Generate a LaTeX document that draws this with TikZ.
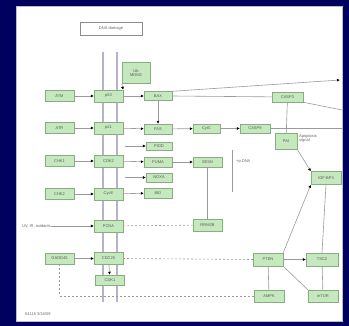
\documentclass[tikz,border=0pt]{standalone}
\usepackage{fontspec}
\setmainfont{Liberation Sans}
\usetikzlibrary{arrows.meta}
\definecolor{frame}{HTML}{00005E}
\definecolor{genefill}{HTML}{C6E8BE}
\definecolor{geneline}{HTML}{86AE7E}
\definecolor{link}{HTML}{9A9A9A}
\definecolor{membrane}{HTML}{B8B2C8}
\begin{document}
\begin{tikzpicture}[x=1pt,y=-1pt,
  gene/.style={draw=geneline, fill=genefill, line width=0.4pt, minimum width=29pt,
    minimum height=11pt, inner sep=0pt, font=\fontsize{4}{4.5}\selectfont, text=black!65},
  lab/.style={inner sep=0pt, font=\fontsize{4}{4.8}\selectfont, text=black!60},
  act/.style={draw=link, line width=0.6pt, -{Latex[length=3pt,width=3pt,color=black]}},
  plain/.style={draw=link, line width=0.6pt},
  indirect/.style={draw=link, line width=0.6pt, dash pattern=on 2pt off 2pt},
  indact/.style={indirect, -{Latex[length=3pt,width=3pt,color=black]}}]
\useasboundingbox (0,0) rectangle (349,326);
% frame and panel
\fill[frame] (0,0) rectangle (349,326);
\fill[white] (16,6) rectangle (342,321);
\draw[black!25, line width=0.5pt] (16,6) rectangle (342,321);

% double vertical guide lines
\draw[membrane, line width=2pt] (103,52) -- (103,302);
\draw[membrane, line width=2pt] (117,52) -- (117,302);

% title box
\node[draw=black!45, line width=0.8pt, fill=white, minimum width=62pt, minimum height=13pt,
  inner sep=0pt, font=\fontsize{4}{4.5}\selectfont, text=black!60] (title) at (111,28.5) {DNA damage};

% genes
\node[gene, minimum width=28pt, minimum height=21pt, align=center] (UB) at (136,73) {Ub\\MDM2};

\node[gene] (L1) at (59.5,96) {ATM};
\node[gene] (L2) at (59.5,128) {ATR};
\node[gene] (L3) at (59.5,161) {CHK1};
\node[gene] (L4) at (59.5,194) {CHK2};
\node[gene] (L6) at (59.5,258.5) {GADD45};

\node[gene, minimum height=12pt] (M1) at (108.5,96) {p53};
\node[gene, minimum height=12pt] (M2) at (108.5,128) {p21};
\node[gene, minimum height=12pt] (M3) at (108.5,161) {CDK2};
\node[gene, minimum height=12pt] (M4) at (108.5,194) {CycE};
\node[gene, minimum height=12pt] (M5) at (108.5,226) {PCNA};
\node[gene, minimum height=12pt] (M6) at (108.5,258.5) {CDC25};
\node[gene, minimum height=10pt] (M7) at (110,280) {CDK1};

\node[gene, minimum width=28pt, minimum height=9pt] (R1) at (158,96) {BAX};
\node[gene, minimum width=28pt, minimum height=10pt] (R2) at (158,129) {FAS};
\node[gene, minimum width=26pt, minimum height=8pt] (R3) at (159,146) {PIDD};
\node[gene, minimum width=28pt, minimum height=10pt] (R4) at (158,162) {PUMA};
\node[gene, minimum width=26pt, minimum height=9pt] (R5) at (159,177.5) {NOXA};
\node[gene, minimum width=28pt, minimum height=10pt] (R6) at (158,193) {BID};

\node[gene, minimum width=27pt, minimum height=9pt] (N1) at (206.5,128.5) {CytC};
\node[gene, minimum width=30pt, minimum height=9pt] (N2) at (255,128.5) {CASP9};
\node[gene, minimum width=29pt, minimum height=10pt] (N3) at (207.5,162) {SESN};
\node[gene, minimum width=29pt, minimum height=12pt] (N4) at (207.5,225) {RRM2B};

\node[gene, minimum width=31pt, minimum height=10pt] (T1) at (287.5,97) {CASP3};
\node[gene, minimum width=22pt, minimum height=16pt] (T2) at (286,141) {PAI};
\node[gene, minimum width=30pt, minimum height=13pt] (RF) at (326,178) {IGF-BP3};

\node[gene, minimum width=30pt, minimum height=13pt] (B1) at (268,259.5) {PTEN};
\node[gene, minimum width=32pt, minimum height=13pt] (B2) at (322,259.5) {TSC2};
\node[gene, minimum width=30pt, minimum height=12pt] (B3) at (269,296) {AMPK};
\node[gene, minimum width=30pt, minimum height=12pt] (B4) at (323,296) {mTOR};

% labels
\node[lab, anchor=west] (dmgtxt) at (22,226) {UV, IR, oxidants};
\node[lab, anchor=west, align=left] (apotxt) at (299,138.5) {Apoptosis\\signal};
\node[lab, anchor=west] (reptxt) at (236,162) {+p DNA};
\node[lab, anchor=west] (mapid) at (25,314) {04115 3/18/09};

% free ends
\coordinate (e1) at (340,80);
\coordinate (e2) at (342,110);
\coordinate (e3) at (342,128.5);
\coordinate (v1) at (232,150);
\coordinate (v2) at (232,192);
\coordinate (s3) at (125,146);
\coordinate (s5) at (125,177.5);

% connectors
\draw[act] (UB.south west) -- (M1.north east);
\foreach \r in {1,2,3,4,6} \draw[act] (L\r) -- (M\r);
\draw[act] (M1) -- (R1);
\draw[act] (M2) -- (R2);
\draw[act] (M3) -- (R4);
\draw[act] (M4) -- (R6);
\draw[act] (s3) -- (R3);
\draw[act] (s5) -- (R5);
\draw[act] (R1) -- (R2);
\draw[act] (R1.north east) -- (e1);
\draw[plain] (R1.east) -- (T1);
\draw[plain] (T1.south east) -- (e2);
\draw[plain] (T1) -- (T2);
\draw[act] (R2) -- (N1);
\draw[act] (N1) -- (N2);
\draw[plain] (N2) -- (e3);
\draw[act] (R4) -- (N3);
\draw[plain] (N3) -- (N4);
\draw[plain] (v1) -- (v2);
\draw[act] (dmgtxt) -- (M5);
\draw[indirect] (M5) -- (N4);
\draw[act] (M6) -- (M7);
\draw[indirect] (M6.east) -- (B1.west);
\draw[act] (B1) -- (B2);
\draw[plain] (B1) -- (B3);
\draw[plain] (B2) -- (B4);
\draw[plain] (B1.south east) -- (B4.north west);
\draw[act] (B1.north east) -- (RF.south west);
\draw[plain] (RF.south) -- (B2.north);
\draw[act] (T2.south east) -- (RF.north west);
\draw[indirect] (L6.south) |- (B3.west);
\end{tikzpicture}
\end{document}
